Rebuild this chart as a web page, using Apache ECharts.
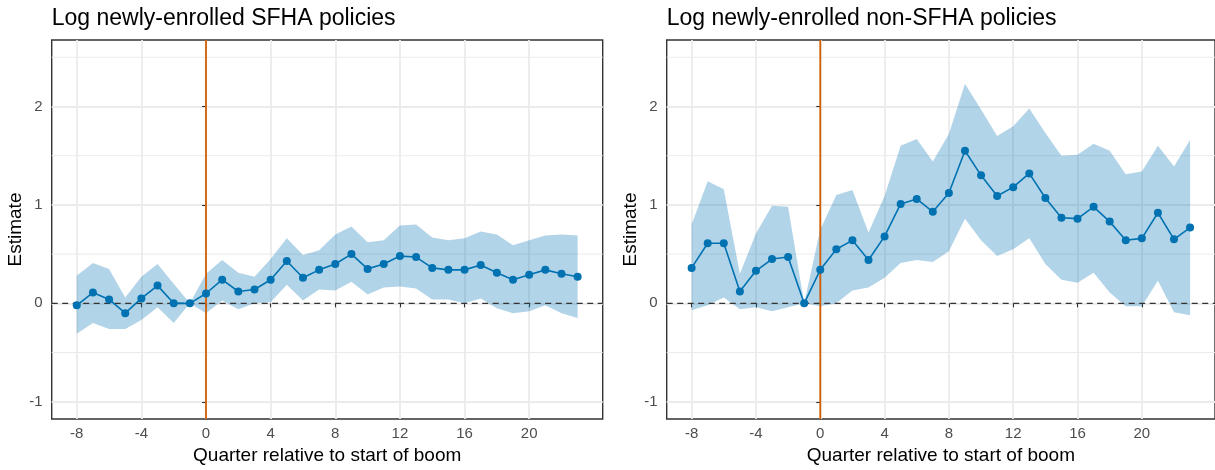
<!DOCTYPE html>
<html>
<head>
<meta charset="utf-8">
<script src="https://cdn.jsdelivr.net/npm/echarts@6/dist/echarts.min.js"></script>
<style>
  html, body { margin: 0; padding: 0; background: #ffffff; }
  #chart { width: 1215px; height: 470px; }
</style>
</head>
<body>
<div id="chart"></div>
<script>
// Event-study estimates by quarter relative to the start of the boom
const quarters = [-8, -7, -6, -5, -4, -3, -2, -1, 0, 1, 2, 3, 4, 5, 6, 7,
                  8, 9, 10, 11, 12, 13, 14, 15, 16, 17, 18, 19, 20, 21, 22, 23];

// Panel 1: log newly-enrolled SFHA policies
const sfhaEstimate = [-0.02, 0.11, 0.04, -0.10, 0.05, 0.18, 0.00, 0.00, 0.10, 0.24, 0.12, 0.14, 0.24, 0.43, 0.26, 0.34,
                      0.40, 0.50, 0.35, 0.40, 0.48, 0.47, 0.36, 0.34, 0.34, 0.39, 0.31, 0.24, 0.29, 0.34, 0.30, 0.27];
const sfhaLower    = [-0.31, -0.20, -0.26, -0.26, -0.17, -0.04, -0.20, 0.00, -0.10, 0.03, -0.06, 0.00, 0.01, 0.19, 0.03, 0.14,
                      0.13, 0.22, 0.09, 0.16, 0.17, 0.15, 0.04, 0.04, 0.00, 0.05, -0.05, -0.10, -0.08, -0.02, -0.10, -0.15];
const sfhaUpper    = [0.28, 0.41, 0.35, 0.06, 0.27, 0.40, 0.20, 0.00, 0.30, 0.44, 0.31, 0.27, 0.45, 0.66, 0.49, 0.54,
                      0.70, 0.78, 0.62, 0.64, 0.79, 0.80, 0.67, 0.64, 0.66, 0.73, 0.70, 0.59, 0.64, 0.69, 0.70, 0.69];

// Panel 2: log newly-enrolled non-SFHA policies
const nonSfhaEstimate = [0.36, 0.61, 0.61, 0.12, 0.33, 0.45, 0.47, 0.00, 0.34, 0.55, 0.64, 0.44, 0.68, 1.01, 1.06, 0.93,
                         1.12, 1.55, 1.30, 1.09, 1.18, 1.32, 1.07, 0.87, 0.86, 0.98, 0.83, 0.64, 0.66, 0.92, 0.65, 0.77];
const nonSfhaLower    = [-0.07, -0.02, 0.06, -0.06, -0.04, -0.08, -0.04, 0.00, -0.03, 0.00, 0.13, 0.16, 0.26, 0.41, 0.44, 0.42,
                         0.53, 0.86, 0.64, 0.48, 0.55, 0.66, 0.40, 0.24, 0.21, 0.31, 0.11, -0.03, -0.03, 0.23, -0.09, -0.12];
const nonSfhaUpper    = [0.80, 1.24, 1.16, 0.30, 0.71, 0.99, 0.98, 0.00, 0.75, 1.10, 1.15, 0.72, 1.09, 1.60, 1.67, 1.44,
                         1.72, 2.23, 1.97, 1.70, 1.80, 1.98, 1.73, 1.50, 1.51, 1.62, 1.55, 1.31, 1.34, 1.60, 1.39, 1.66];

// Axis ticks and reference lines
const xTickValues = [-8, -4, 0, 4, 8, 12, 16, 20];
const yTickValues = [-1, 0, 1, 2];
const yMinorValues = [-0.5, 0.5, 1.5, 2.5];
const boomStart = 0;
const zeroLevel = 0;

const panelTitles = ['Log newly-enrolled SFHA policies', 'Log newly-enrolled non-SFHA policies'];
const xAxisTitle = 'Quarter relative to start of boom';
const yAxisTitle = 'Estimate';

// Axis limits: data limits padded by 5% on each side
const X_MIN = -9.55, X_MAX = 24.55;
const Y_MIN = -1.175, Y_MAX = 2.675;

const FONT = 'Liberation Sans, Arial, Helvetica, sans-serif';
const BLUE = '#0072B2';
const ORANGE = '#D55E00';
const GRID_GREY = '#EBEBEB';
const DARK = '#333333';

const panels = [
  { est: sfhaEstimate, lo: sfhaLower, hi: sfhaUpper },
  { est: nonSfhaEstimate, lo: nonSfhaLower, hi: nonSfhaUpper }
];

const grids = [
  { left: 51.7, top: 40, width: 551, height: 383.5 },
  { left: 666.7, top: 40, width: 551, height: 383.5 }
];

// Background layer of a panel: minor gridlines, confidence band, zero line, boom marker
function bandRenderer(panel) {
  return function (params, api) {
    const cs = params.coordSys;
    const children = [];
    yMinorValues.forEach(function (v) {
      const y = api.coord([X_MIN, v])[1];
      children.push({
        type: 'line',
        shape: { x1: cs.x, y1: y, x2: cs.x + cs.width, y2: y },
        style: { stroke: GRID_GREY, lineWidth: 1 }
      });
    });
    const pts = [];
    quarters.forEach(function (q, i) { pts.push(api.coord([q, panel.hi[i]])); });
    for (let i = quarters.length - 1; i >= 0; i--) { pts.push(api.coord([quarters[i], panel.lo[i]])); }
    children.push({
      type: 'polygon',
      shape: { points: pts },
      style: { fill: 'rgba(0,114,178,0.3)', stroke: null }
    });
    const y0 = api.coord([X_MIN, zeroLevel])[1];
    children.push({
      type: 'line',
      shape: { x1: cs.x, y1: y0, x2: cs.x + cs.width, y2: y0 },
      style: { stroke: DARK, lineWidth: 1.4, lineDash: [6, 4.5] }
    });
    const xb = api.coord([boomStart, Y_MIN])[0];
    children.push({
      type: 'line',
      shape: { x1: xb, y1: cs.y, x2: xb, y2: cs.y + cs.height },
      style: { stroke: ORANGE, lineWidth: 1.8 }
    });
    return { type: 'group', children: children };
  };
}

const option = {
  animation: false,
  backgroundColor: '#ffffff',
  textStyle: { fontFamily: FONT },
  title: panelTitles.map(function (t, i) {
    return {
      text: t,
      left: grids[i].left,
      top: 7,
      padding: 0,
      textStyle: { fontSize: 23, fontWeight: 'normal', color: '#000000', fontFamily: FONT }
    };
  }),
  grid: grids.map(function (g) {
    return Object.assign({ show: true, borderColor: DARK, borderWidth: 1.4, backgroundColor: 'transparent', containLabel: false }, g);
  }),
  xAxis: grids.map(function (g, i) {
    return {
      gridIndex: i,
      type: 'value',
      min: X_MIN,
      max: X_MAX,
      axisLine: { show: false },
      axisTick: { show: true, inside: false, length: 4, customValues: xTickValues, lineStyle: { color: DARK, width: 1.1 } },
      axisLabel: { customValues: xTickValues, color: '#4D4D4D', fontSize: 15, margin: 7, fontFamily: FONT },
      splitLine: { show: true, lineStyle: { color: GRID_GREY, width: 1.8 } },
      name: xAxisTitle,
      nameLocation: 'middle',
      nameGap: 27,
      nameTextStyle: { fontSize: 19, color: '#000000', fontFamily: FONT }
    };
  }),
  yAxis: grids.map(function (g, i) {
    return {
      gridIndex: i,
      type: 'value',
      min: Y_MIN,
      max: Y_MAX,
      axisLine: { show: false },
      axisTick: { show: true, inside: false, length: 4, customValues: yTickValues, lineStyle: { color: DARK, width: 1.1 } },
      axisLabel: { customValues: yTickValues, color: '#4D4D4D', fontSize: 15, margin: 9, fontFamily: FONT },
      splitLine: { show: true, lineStyle: { color: GRID_GREY, width: 1.8 } },
      name: yAxisTitle,
      nameLocation: 'middle',
      nameGap: 25,
      nameRotate: 90,
      nameTextStyle: { fontSize: 19, color: '#000000', fontFamily: FONT }
    };
  }),
  series: []
};

panels.forEach(function (panel, i) {
  option.series.push({
    type: 'custom',
    xAxisIndex: i,
    yAxisIndex: i,
    z: 2,
    silent: true,
    clip: false,
    data: [[quarters[0], panel.est[0]]],
    renderItem: bandRenderer(panel)
  });
  option.series.push({
    type: 'line',
    xAxisIndex: i,
    yAxisIndex: i,
    z: 3,
    data: quarters.map(function (q, k) { return [q, panel.est[k]]; }),
    symbol: 'circle',
    symbolSize: 8,
    showSymbol: true,
    lineStyle: { color: BLUE, width: 1.6 },
    itemStyle: { color: BLUE, borderWidth: 0 }
  });
});

const chart = echarts.init(document.getElementById('chart'), null, { renderer: 'canvas' });
chart.setOption(option);
</script>
</body>
</html>
